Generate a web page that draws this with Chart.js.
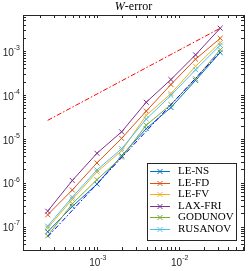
<!DOCTYPE html>
<html>
<head>
<meta charset="utf-8">
<script src="https://cdn.jsdelivr.net/npm/chart.js@4.4.0/dist/chart.umd.min.js"></script>
<style>
  body { margin: 0; background: #fff; }
  #wrap { width: 249px; height: 271px; }
</style>
</head>
<body>
<div id="wrap"><canvas id="errChart" width="249" height="271"></canvas></div>
<script>
// mesh sizes h (x axis)
const hValues = [0.000244140625, 0.00048828125, 0.0009765625, 0.001953125, 0.00390625, 0.0078125, 0.015625, 0.03125];

// error per method
const methodNames = ['LE-NS', 'LE-FD', 'LE-FV', 'LAX-FRI', 'GODUNOV', 'RUSANOV'];
const errLeNs     = [7.8e-8, 2.95e-7, 9.5e-7, 4.2e-6, 1.75e-5, 5.3e-5, 2.2e-4, 9.5e-4];
const errLeFd     = [1.9e-7, 7.0e-7, 2.9e-6, 1.05e-5, 4.4e-5, 1.77e-4, 6.7e-4, 2.0e-3];
const errLeFv     = [9.5e-8, 4.3e-7, 1.8e-6, 5.5e-6, 3.5e-5, 1.1e-4, 4.6e-4, 1.6e-3];
const errLaxFri   = [2.3e-7, 1.15e-6, 4.8e-6, 1.48e-5, 7.0e-5, 2.3e-4, 8.4e-4, 3.4e-3];
const errGodunov  = [6.3e-8, 3.4e-7, 1.2e-6, 3.9e-6, 2.1e-5, 6.2e-5, 2.4e-4, 1.1e-3];
const errRusanov  = [1.05e-7, 4.8e-7, 2.0e-6, 6.1e-6, 2.9e-5, 1.0e-4, 3.85e-4, 1.4e-3];
const methodColors = ['#0072BD', '#D95319', '#EDB120', '#7E2F8E', '#77AC30', '#4DBEEE'];

// reference slopes (end points only)
const refX = [0.000244140625, 0.03125];
const refOrder1 = [2.7e-5, 3.4e-3];
const refOrder2 = [6.0e-8, 9.8e-4];

// axis ticks: value, base, exponent
const xMajor = [1e-3, 1e-2];
const xMajorExp = ['-3', '-2'];
const yMajor = [1e-7, 1e-6, 1e-5, 1e-4, 1e-3];
const yMajorExp = ['-7', '-6', '-5', '-4', '-3'];
const xRange = [1.22e-4, 0.061];
const yRange = [3.1e-8, 6.8e-3];

const titleVar = 'W';
const titleRest = '-error';

const axisColor = '#262626';

// minor + major tick positions inside a range (1..9 x 10^k)
function logTicks(range) {
    const out = [];
    for (let e = Math.floor(Math.log10(range[0])); e <= Math.ceil(Math.log10(range[1])); e++) {
        for (let d = 1; d <= 9; d++) {
            const v = d * Math.pow(10, e);
            if (v >= range[0] && v <= range[1]) out.push(v);
        }
    }
    return out;
}

const errSeries = [errLeNs, errLeFd, errLeFv, errLaxFri, errGodunov, errRusanov];

const datasets = methodNames.map((name, i) => ({
    label: name,
    data: hValues.map((h, j) => ({ x: h, y: errSeries[i][j] })),
    borderColor: methodColors[i],
    backgroundColor: methodColors[i],
    borderWidth: 1,
    pointStyle: 'crossRot',
    pointRadius: 3.5,
    pointBorderWidth: 1,
    order: 20 - i // later series on top, like matlab
}));

datasets.push({
    label: '',
    isRef: true,
    data: refX.map((h, j) => ({ x: h, y: refOrder2[j] })),
    borderColor: '#0000FF',
    borderWidth: 1,
    borderDash: [5, 2, 1.5, 2],
    pointRadius: 0,
    order: 2
});
datasets.push({
    label: '',
    isRef: true,
    data: refX.map((h, j) => ({ x: h, y: refOrder1[j] })),
    borderColor: '#FF0000',
    borderWidth: 1,
    borderDash: [5, 2, 1.5, 2],
    pointRadius: 0,
    order: 1
});

// title with italic W
const titlePlugin = {
    id: 'titleW',
    afterDraw(chart) {
        const { ctx, chartArea } = chart;
        ctx.save();
        ctx.fillStyle = '#000';
        ctx.textBaseline = 'middle';
        ctx.font = 'italic 12px "Liberation Serif"';
        const w1 = ctx.measureText(titleVar).width;
        ctx.font = '12px "Liberation Serif"';
        const w2 = ctx.measureText(titleRest).width;
        let x = (chartArea.left + chartArea.right) / 2 - (w1 + w2) / 2;
        ctx.font = 'italic 12px "Liberation Serif"';
        ctx.fillText(titleVar, x, 7);
        ctx.font = '12px "Liberation Serif"';
        ctx.fillText(titleRest, x + w1, 7);
        ctx.restore();
    }
};

// 10^k tick labels with a real raised exponent
const powerLabels = {
    id: 'powerLabels',
    afterDraw(chart) {
        const { ctx } = chart;
        const baseFont = '10px "Liberation Sans", Arial, sans-serif';
        const expFont = '7px "Liberation Sans", Arial, sans-serif';
        ctx.save();
        ctx.fillStyle = axisColor;
        ctx.textBaseline = 'middle';
        const measure = (e) => {
            ctx.font = baseFont;
            const wb = ctx.measureText('10').width;
            ctx.font = expFont;
            return [wb, ctx.measureText(e).width];
        };
        const draw = (e, left, cy) => {
            const [wb] = measure(e);
            ctx.font = baseFont;
            ctx.fillText('10', left, cy);
            ctx.font = expFont;
            ctx.fillText(e, left + wb, cy - 5);
        };
        const sx = chart.scales.x;
        xMajor.forEach((v, i) => {
            const [wb, we] = measure(xMajorExp[i]);
            const px = sx.getPixelForValue(v);
            draw(xMajorExp[i], px - (wb + we) / 2, 263);
        });
        const sy = chart.scales.y;
        yMajor.forEach((v, i) => {
            const [wb, we] = measure(yMajorExp[i]);
            const py = sy.getPixelForValue(v);
            draw(yMajorExp[i], 20 - wb - we, py + 1.5);
        });
        ctx.restore();
    }
};

// legend box in the lower right corner of the axes
const boxLegend = {
    id: 'boxLegend',
    afterDraw(chart) {
        const { ctx, chartArea } = chart;
        const items = chart.data.datasets.filter(d => !d.isRef);
        const w = 89, h = 77;
        const left = chartArea.right - 8 - w;
        const top = chartArea.bottom - 10 - h;
        ctx.save();
        ctx.fillStyle = '#fff';
        ctx.fillRect(left, top, w, h);
        ctx.strokeStyle = axisColor;
        ctx.lineWidth = 1;
        ctx.strokeRect(left + 0.5, top + 0.5, w, h);
        ctx.font = '11px "Liberation Serif"';
        ctx.textBaseline = 'middle';
        items.forEach((d, i) => {
            const y = Math.round(top + 8 + i * 11.6) + 0.5;
            ctx.strokeStyle = d.borderColor;
            ctx.beginPath();
            ctx.moveTo(left + 3, y);
            ctx.lineTo(left + 23, y);
            ctx.stroke();
            const mx = left + 13, r = 2.5;
            ctx.beginPath();
            ctx.moveTo(mx - r, y - r); ctx.lineTo(mx + r, y + r);
            ctx.moveTo(mx - r, y + r); ctx.lineTo(mx + r, y - r);
            ctx.stroke();
            ctx.fillStyle = '#000';
            ctx.fillText(d.label, left + 31, y);
        });
        ctx.restore();
    }
};

const ctx = document.getElementById('errChart');
new Chart(ctx, {
    type: 'line',
    data: { datasets: datasets },
    options: {
        responsive: false,
        animation: false,
        layout: { padding: { top: 15, left: 0, right: 0, bottom: 0 } },
        plugins: {
            legend: { display: false },
            tooltip: { enabled: false }
        },
        scales: {
            x: {
                type: 'logarithmic',
                position: 'bottom',
                min: xRange[0],
                max: xRange[1],
                afterBuildTicks: (axis) => { axis.ticks = logTicks(xRange).map(v => ({ value: v })); },
                afterFit: (axis) => { axis.height = 21; },
                border: { color: axisColor },
                grid: { drawOnChartArea: false, tickLength: -3, color: axisColor },
                ticks: { display: false }
            },
            x2: {
                type: 'logarithmic',
                axis: 'x',
                position: 'top',
                min: xRange[0],
                max: xRange[1],
                afterBuildTicks: (axis) => { axis.ticks = logTicks(xRange).map(v => ({ value: v })); },
                afterFit: (axis) => { axis.height = 0; },
                border: { color: axisColor },
                grid: { drawOnChartArea: false, tickLength: -3, color: axisColor },
                ticks: { display: false }
            },
            y: {
                type: 'logarithmic',
                position: 'left',
                min: yRange[0],
                max: yRange[1],
                afterBuildTicks: (axis) => { axis.ticks = logTicks(yRange).map(v => ({ value: v })); },
                afterFit: (axis) => { axis.width = 23; },
                border: { color: axisColor },
                grid: { drawOnChartArea: false, tickLength: -3, color: axisColor },
                ticks: { display: false }
            },
            y2: {
                type: 'logarithmic',
                axis: 'y',
                position: 'right',
                min: yRange[0],
                max: yRange[1],
                afterBuildTicks: (axis) => { axis.ticks = logTicks(yRange).map(v => ({ value: v })); },
                afterFit: (axis) => { axis.width = 2; },
                border: { color: axisColor },
                grid: { drawOnChartArea: false, tickLength: -3, color: axisColor },
                ticks: { display: false }
            }
        }
    },
    plugins: [titlePlugin, powerLabels, boxLegend]
});
</script>
</body>
</html>
